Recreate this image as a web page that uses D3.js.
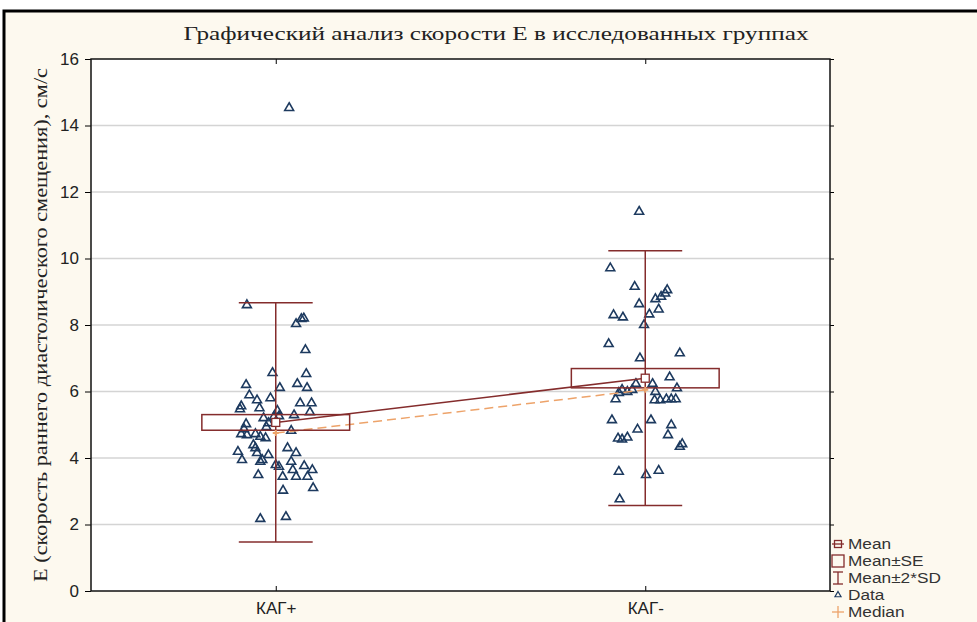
<!DOCTYPE html>
<html>
<head>
<meta charset="utf-8">
<script src="https://cdn.jsdelivr.net/npm/d3@7"></script>
<style>
  body { margin: 0; background: #fff; }
  svg { display: block; }
</style>
</head>
<body>
<div id="chart"></div>
<script>
// data
let groups = ['КАГ+', 'КАГ-']
let yTicks = [0, 2, 4, 6, 8, 10, 12, 14, 16]

let means = [5.07, 6.4]
let stdErrs = [0.235, 0.29]
let twoSd = [3.6, 3.83]
let medians = [4.75, 6.05]

let valuesKagPlus = [
  8.6, 8.2, 8.18, 8.03, 7.25, 6.56, 6.53, 6.2, 6.11, 6.23, 6.11, 5.89, 5.74,
  5.8, 5.56, 5.47, 5.5, 5.65, 5.65, 5.38, 5.42, 5.23, 5.26, 5.29, 5.2, 5.02,
  5.05, 4.93, 4.87, 4.72, 4.69, 4.72, 4.64, 4.6, 4.82, 4.39, 4.3, 4.3, 4.19,
  3.94, 4.15, 3.94, 4.09, 4.15, 3.89, 3.79, 3.74, 3.64, 3.76, 3.64, 3.89,
  3.49, 3.44, 3.44, 3.44, 3.02, 3.1, 2.17, 2.23, 14.53
]
// horizontal jitter of each point, -1..1
let jitterKagPlus = [
  -0.71, 0.69, 0.63, 0.5, 0.73, -0.08, 0.75, -0.73, 0.1, 0.53, 0.77, -0.65,
  -0.46, -0.13, -0.85, -0.88, -0.4, 0.6, 0.88, 0.84, 0.04, -0.05, 0.08, 0.45,
  -0.3, -0.73, -0.18, -0.23, -0.78, -0.85, -0.71, -0.5, -0.38, -0.25, 0.38,
  -0.55, -0.5, 0.29, -0.93, -0.83, -0.46, -0.33, -0.18, 0.5, 0.38, 0, 0.08,
  0.42, 0.7, 0.9, -0.38, -0.43, 0.17, 0.5, 0.78, 0.18, 0.92, -0.38, 0.25, 0.33
]

let valuesKagMinus = [
  11.41, 9.71, 9.15, 9.05, 8.95, 8.85, 8.78, 8.47, 8.63, 8.3, 8.23, 8.32, 8.0,
  7.43, 7.15, 7.0, 6.43, 6.1, 6.23, 6.05, 5.99, 6.05, 5.96, 5.77, 6.23, 5.99,
  5.74, 5.74, 5.77, 5.77, 5.77, 5.14, 5.14, 4.99, 4.86, 4.69, 4.59, 4.56,
  4.62, 4.42, 4.34, 3.59, 3.49, 3.62, 2.76
]
let jitterKagMinus = [
  -0.15, -0.86, -0.26, 0.54, 0.49, 0.39, 0.25, 0.33, -0.15, -0.78, -0.55, 0.1,
  -0.03, -0.9, 0.85, -0.13, 0.6, 0.78, -0.23, -0.32, -0.44, -0.57, -0.65,
  -0.73, 0.18, 0.25, 0.23, 0.37, 0.52, 0.64, 0.75, -0.82, 0.14, 0.64, -0.19,
  0.56, -0.67, -0.57, -0.44, 0.91, 0.85, -0.65, 0.02, 0.33, -0.63
]

let legendItems = ['Mean', 'Mean±SE', 'Mean±2*SD', 'Data', 'Median']

let width = 977
let height = 622
let margin = { top: 59, left: 91, right: 147, bottom: 31 }
let plotW = width - margin.left - margin.right
let plotH = height - margin.top - margin.bottom

let dark = '#842c2c'
let navy = '#1d3a5f'
let orange = '#eda36a'

let svg = d3
  .select('#chart')
  .append('svg')
  .attr('width', width)
  .attr('height', height)

// outer panel
svg
  .append('rect')
  .attr('x', 4)
  .attr('y', 11)
  .attr('width', width)
  .attr('height', height)
  .attr('fill', '#fdf9ef')
  .attr('stroke', '#000')
  .attr('stroke-width', 3)

let xScale = d3
  .scalePoint()
  .domain(groups)
  .range([0, plotW])
  .padding(0.5)

let yScale = d3
  .scaleLinear()
  .domain([0, 16])
  .range([plotH, 0])

let step = xScale.step()
let jitterScale = d3
  .scaleLinear()
  .domain([-1, 1])
  .range([-step * 0.11, step * 0.11])

let g = svg
  .append('g')
  .attr('transform', `translate(${margin.left},${margin.top})`)

g.append('rect')
  .attr('width', plotW)
  .attr('height', plotH)
  .attr('fill', '#fff')

// grid
g.selectAll('.grid')
  .data(yTicks.filter(d => d > 0 && d < 16))
  .enter()
  .append('line')
  .attr('x1', 0)
  .attr('x2', plotW)
  .attr('y1', d => yScale(d))
  .attr('y2', d => yScale(d))
  .attr('stroke', '#d4d4d4')
  .attr('stroke-width', 1.5)

// y axis
let yAxis = d3
  .axisLeft(yScale)
  .tickValues(yTicks)
  .tickSize(6)
  .tickPadding(6)
g.append('g')
  .call(yAxis)
  .call(sel => sel.select('.domain').remove())
  .call(sel =>
    sel
      .selectAll('text')
      .attr('font-family', 'Liberation Sans, Arial, sans-serif')
      .attr('font-size', 17)
      .attr('fill', '#222')
  )

// right-side ticks
g.append('g')
  .attr('transform', `translate(${plotW},0)`)
  .call(d3.axisRight(yScale).tickValues(yTicks).tickSize(4).tickFormat(''))
  .call(sel => sel.select('.domain').remove())

// x axis
let xAxis = d3
  .axisBottom(xScale)
  .tickSize(-5)
  .tickPadding(11)
g.append('g')
  .attr('transform', `translate(0,${plotH})`)
  .call(xAxis)
  .call(sel => sel.select('.domain').remove())
  .call(sel =>
    sel
      .selectAll('text')
      .attr('font-family', 'Liberation Sans, Arial, sans-serif')
      .attr('font-size', 17)
      .attr('fill', '#222')
  )

g.append('g')
  .call(d3.axisTop(xScale).tickSize(-5).tickFormat(''))
  .call(sel => sel.select('.domain').remove())

// data points
let pointSets = [
  { values: valuesKagPlus, jitter: jitterKagPlus },
  { values: valuesKagMinus, jitter: jitterKagMinus }
]
let triangle = d3.symbol().type(d3.symbolTriangle).size(34)

pointSets.forEach((set, gi) => {
  g.append('g')
    .selectAll('.point')
    .data(set.values)
    .enter()
    .append('path')
    .attr('d', triangle)
    .attr('transform', (d, i) => {
      let x = xScale(groups[gi]) + jitterScale(set.jitter[i])
      return `translate(${x},${yScale(d)})`
    })
    .attr('fill', 'none')
    .attr('stroke', navy)
    .attr('stroke-width', 1.6)
})

// mean and median connecting lines
let meanLine = d3
  .line()
  .x((d, i) => xScale(groups[i]))
  .y(d => yScale(d))

g.append('path')
  .datum(medians)
  .attr('d', meanLine)
  .attr('fill', 'none')
  .attr('stroke', orange)
  .attr('stroke-width', 1.5)
  .attr('stroke-dasharray', '9,5')

g.append('path')
  .datum(means)
  .attr('d', meanLine)
  .attr('fill', 'none')
  .attr('stroke', dark)
  .attr('stroke-width', 1.5)

// boxes and whiskers
let boxHalf = step * 0.2
let capHalf = step * 0.1

groups.forEach((grp, i) => {
  let cx = xScale(grp)
  let bg = g.append('g')

  bg.append('line')
    .attr('x1', cx)
    .attr('x2', cx)
    .attr('y1', yScale(means[i] + twoSd[i]))
    .attr('y2', yScale(means[i] - twoSd[i]))
    .attr('stroke', dark)
    .attr('stroke-width', 1.5)

  ;[means[i] + twoSd[i], means[i] - twoSd[i]].forEach(v => {
    bg.append('line')
      .attr('x1', cx - capHalf)
      .attr('x2', cx + capHalf)
      .attr('y1', yScale(v))
      .attr('y2', yScale(v))
      .attr('stroke', dark)
      .attr('stroke-width', 1.5)
  })

  bg.append('rect')
    .attr('x', cx - boxHalf)
    .attr('y', yScale(means[i] + stdErrs[i]))
    .attr('width', boxHalf * 2)
    .attr('height', yScale(means[i] - stdErrs[i]) - yScale(means[i] + stdErrs[i]))
    .attr('fill', 'none')
    .attr('stroke', dark)
    .attr('stroke-width', 1.5)

  // median marker
  bg.append('path')
    .attr('d', d3.symbol().type(d3.symbolCross).size(20))
    .attr('transform', `translate(${cx},${yScale(medians[i])})`)
    .attr('fill', orange)

  // mean marker
  bg.append('rect')
    .attr('x', cx - 4)
    .attr('y', yScale(means[i]) - 4)
    .attr('width', 8)
    .attr('height', 8)
    .attr('fill', '#fff')
    .attr('stroke', dark)
    .attr('stroke-width', 1.3)
})

// plot frame
g.append('rect')
  .attr('width', plotW)
  .attr('height', plotH)
  .attr('fill', 'none')
  .attr('stroke', '#111')
  .attr('stroke-width', 1.5)

// title
svg
  .append('text')
  .text('Графический анализ скорости Е в исследованных группах')
  .attr('x', 496)
  .attr('y', 40)
  .attr('text-anchor', 'middle')
  .attr('font-family', 'Liberation Serif, Times New Roman, serif')
  .attr('font-size', 19)
  .attr('textLength', 625)
  .attr('lengthAdjust', 'spacingAndGlyphs')
  .attr('fill', '#222')

// y label
svg
  .append('text')
  .text('Е (скорость раннего диастолического смещения), см/с')
  .attr('transform', `translate(47,${margin.top + plotH / 2}) rotate(-90)`)
  .attr('text-anchor', 'middle')
  .attr('font-family', 'Liberation Serif, Times New Roman, serif')
  .attr('font-size', 19)
  .attr('textLength', 514)
  .attr('lengthAdjust', 'spacingAndGlyphs')
  .attr('fill', '#222')

// legend
let legend = svg
  .append('g')
  .attr('transform', 'translate(838,544)')

legendItems.forEach((label, i) => {
  let row = legend.append('g').attr('transform', `translate(0,${i * 17})`)
  if (label === 'Mean') {
    row.append('line').attr('x1', -6).attr('x2', 6).attr('stroke', dark).attr('stroke-width', 1.3)
    row.append('rect').attr('x', -3.5).attr('y', -3.5).attr('width', 7).attr('height', 7)
      .attr('fill', 'none').attr('stroke', dark).attr('stroke-width', 1.3)
  } else if (label === 'Mean±SE') {
    row.append('rect').attr('x', -6).attr('y', -6).attr('width', 12).attr('height', 12)
      .attr('fill', 'none').attr('stroke', dark).attr('stroke-width', 1.3)
  } else if (label === 'Mean±2*SD') {
    row.append('line').attr('y1', -6).attr('y2', 6).attr('stroke', dark).attr('stroke-width', 1.3)
    row.append('line').attr('x1', -5).attr('x2', 5).attr('y1', -6).attr('y2', -6).attr('stroke', dark).attr('stroke-width', 1.3)
    row.append('line').attr('x1', -5).attr('x2', 5).attr('y1', 6).attr('y2', 6).attr('stroke', dark).attr('stroke-width', 1.3)
  } else if (label === 'Data') {
    row.append('path').attr('d', d3.symbol().type(d3.symbolTriangle).size(16))
      .attr('fill', 'none').attr('stroke', navy).attr('stroke-width', 1.2)
  } else {
    row.append('line').attr('x1', -6).attr('x2', 6).attr('stroke', orange).attr('stroke-width', 1.3)
    row.append('line').attr('y1', -6).attr('y2', 6).attr('stroke', orange).attr('stroke-width', 1.3)
  }
  // text slightly stretched sideways, as in the original picture
  row.append('text')
    .text(label)
    .attr('transform', 'translate(10,0) scale(1.15,1)')
    .attr('dy', '0.35em')
    .attr('font-family', 'Liberation Sans, Arial, sans-serif')
    .attr('font-size', 15)
    .attr('fill', '#333')
})
</script>
</body>
</html>
